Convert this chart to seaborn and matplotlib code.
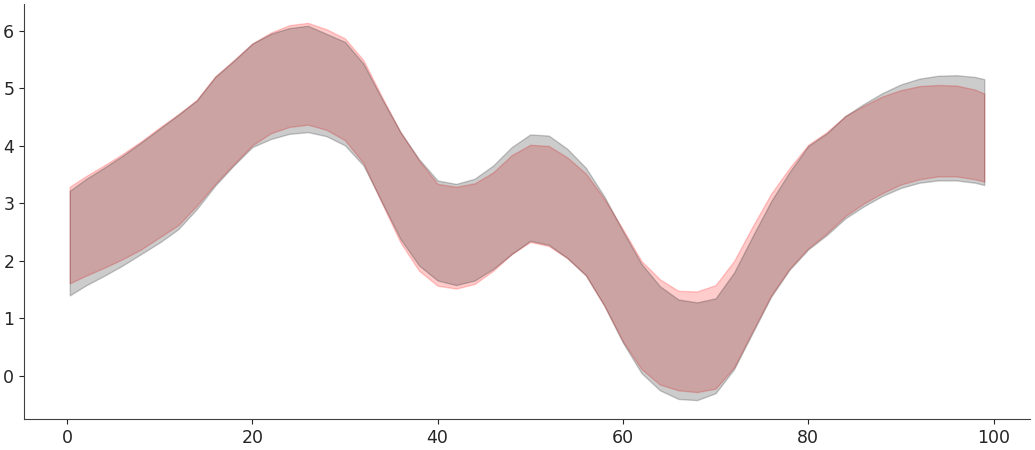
import matplotlib
matplotlib.use("Agg")
import matplotlib.pyplot as plt
import seaborn as sns

# x positions of the sampled band edges
x = [0.3, 2, 4, 6, 8, 10, 12, 14, 16, 18, 20, 22, 24, 26, 28, 30, 32, 34, 36, 38,
     40, 42, 44, 46, 48, 50, 52, 54, 56, 58, 60, 62, 64, 66, 68, 70, 72, 74, 76, 78,
     80, 82, 84, 86, 88, 90, 92, 94, 96, 98, 99]

# grey band
gray_upper = [3.22, 3.42, 3.62, 3.83, 4.06, 4.30, 4.54, 4.79, 5.20, 5.48, 5.78, 5.95, 6.05, 6.09, 5.95, 5.81, 5.43, 4.82, 4.24, 3.77,
              3.40, 3.34, 3.43, 3.66, 3.98, 4.20, 4.18, 3.95, 3.62, 3.12, 2.52, 1.95, 1.56, 1.33, 1.28, 1.35, 1.80, 2.43, 3.04, 3.55,
              4.00, 4.22, 4.52, 4.73, 4.92, 5.07, 5.17, 5.22, 5.23, 5.20, 5.16]
gray_lower = [1.40, 1.57, 1.74, 1.92, 2.12, 2.32, 2.55, 2.90, 3.31, 3.66, 3.98, 4.12, 4.21, 4.24, 4.17, 4.01, 3.66, 3.02, 2.38, 1.92,
              1.66, 1.58, 1.66, 1.86, 2.12, 2.35, 2.28, 2.05, 1.75, 1.22, 0.58, 0.05, -0.25, -0.40, -0.42, -0.30, 0.12, 0.75, 1.38, 1.85,
              2.20, 2.45, 2.74, 2.95, 3.13, 3.27, 3.36, 3.40, 3.40, 3.36, 3.32]

# red band
red_upper = [3.29, 3.47, 3.66, 3.86, 4.08, 4.32, 4.55, 4.80, 5.21, 5.49, 5.78, 5.97, 6.10, 6.14, 6.03, 5.87, 5.49, 4.85, 4.24, 3.75,
             3.34, 3.29, 3.35, 3.54, 3.84, 4.02, 4.00, 3.80, 3.52, 3.08, 2.55, 2.00, 1.68, 1.48, 1.47, 1.58, 2.00, 2.60, 3.17, 3.62,
             4.02, 4.24, 4.52, 4.70, 4.86, 4.97, 5.04, 5.06, 5.05, 4.98, 4.91]
red_lower = [1.61, 1.74, 1.88, 2.03, 2.20, 2.41, 2.62, 2.96, 3.34, 3.68, 4.01, 4.22, 4.33, 4.37, 4.28, 4.10, 3.70, 3.00, 2.32, 1.83,
             1.57, 1.52, 1.60, 1.83, 2.12, 2.33, 2.26, 2.05, 1.75, 1.22, 0.60, 0.12, -0.15, -0.25, -0.28, -0.22, 0.15, 0.78, 1.40, 1.87,
             2.22, 2.48, 2.78, 3.00, 3.18, 3.33, 3.42, 3.47, 3.47, 3.42, 3.38]

sns.set_theme(style="ticks", rc={
    "axes.linewidth": 0.8,
    "xtick.major.size": 3.5,
    "ytick.major.size": 3.5,
    "xtick.major.width": 0.8,
    "ytick.major.width": 0.8,
    "axes.edgecolor": "#404040",
})

fig, ax = plt.subplots(figsize=(10.35, 4.5), dpi=100)
# red band first, grey band drawn over it
ax.fill_between(x, red_lower, red_upper, color="red", alpha=0.2)
ax.fill_between(x, gray_lower, gray_upper, color="black", alpha=0.2)

ax.tick_params(labelsize=12.5)
sns.despine(ax=ax)
fig.subplots_adjust(left=24 / 1035, right=1030 / 1035, top=1 - 4 / 450, bottom=1 - 419 / 450)
fig.savefig("out.png", dpi=100)
